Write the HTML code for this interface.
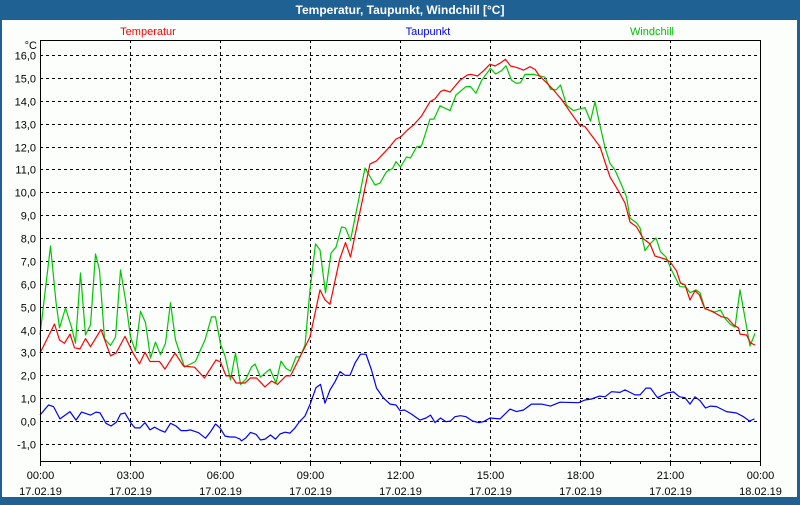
<!DOCTYPE html>
<html><head><meta charset="utf-8">
<style>
html,body{margin:0;padding:0;}
body{width:800px;height:500px;overflow:hidden;background:#1f6193;font-family:"Liberation Sans",sans-serif;}
#win{position:absolute;left:0;top:0;width:800px;height:500px;}
</style></head>
<body>
<div id="win">
<svg id="chart" width="800" height="500" xmlns="http://www.w3.org/2000/svg">
<rect x="0" y="0" width="800" height="500" fill="#1f6193"/>
<rect x="2" y="20" width="795" height="477" fill="#fbfefb"/>
<text x="400" y="14" text-anchor="middle" font-size="12" font-weight="bold" fill="#ffffff">Temperatur, Taupunkt, Windchill [°C]</text>
<text x="148" y="35" text-anchor="middle" font-size="11" fill="#ff0000">Temperatur</text>
<text x="428" y="35" text-anchor="middle" font-size="11" fill="#0000ff">Taupunkt</text>
<text x="652" y="35" text-anchor="middle" font-size="11" fill="#00c000">Windchill</text>
<text x="37" y="49" text-anchor="end" font-size="11" fill="#000">°C</text>
<g id="grid"></g>
<g id="series"></g>
<g id="axes"></g>
</svg>
</div>
<script>
const yTicks=[16,15,14,13,12,11,10,9,8,7,6,5,4,3,2,1,0,-1];
const xTickHours=[0,3,6,9,12,15,18,21,24];
const xTickTimes=["00:00","03:00","06:00","09:00","12:00","15:00","18:00","21:00","00:00"];
const xTickDates=["17.02.19","17.02.19","17.02.19","17.02.19","17.02.19","17.02.19","17.02.19","17.02.19","18.02.19"];

const tempMinutes=[0,29,39,49,60,69,80,91,101,122,141,152,170,186,199,210,220,239,250,270,287,309,329,352,361,372,383,392,410,421,433,450,463,475,492,501,520,540,560,570,580,599,611,621,647,660,673,699,712,721,735,747,763,780,790,801,808,820,830,840,855,863,875,887,900,910,920,931,941,953,967,980,990,999,1013,1027,1043,1060,1079,1090,1107,1120,1133,1140,1157,1170,1180,1193,1207,1220,1230,1250,1260,1273,1281,1290,1300,1310,1319,1329,1350,1363,1375,1387,1397,1400,1413,1421,1430];
const tempValues=[2.97,4.24,3.54,3.4,3.8,3.2,3.15,3.6,3.25,4.0,2.85,2.97,3.7,2.97,2.5,3.0,2.6,2.6,2.27,2.97,2.4,2.35,1.88,2.67,2.58,1.97,1.97,1.66,1.66,1.88,1.88,1.49,1.75,1.6,1.97,1.97,2.8,3.67,5.73,5.3,5.1,7.04,7.8,7.17,9.88,11.24,11.37,11.98,12.33,12.41,12.72,12.94,13.33,13.96,14.08,14.4,14.47,14.38,14.64,14.9,15.13,15.15,15.08,15.31,15.6,15.52,15.64,15.81,15.52,15.46,15.34,15.49,15.37,15.08,14.79,14.47,14.06,13.52,12.94,12.87,12.37,11.99,11.12,10.67,10.05,9.53,8.7,8.49,7.96,7.74,7.21,7.08,6.96,6.57,6.03,5.95,5.29,5.7,5.51,4.94,4.72,4.56,4.5,4.2,4.07,3.8,3.76,3.42,3.32];

const dewMinutes=[0,17,27,40,60,72,83,101,112,120,132,142,153,161,170,182,190,200,210,220,229,239,250,261,272,282,293,301,317,331,341,351,360,370,380,390,400,403,412,421,432,441,450,461,471,480,490,500,510,519,530,541,552,561,570,580,590,600,610,620,630,641,652,663,673,687,700,712,720,729,743,760,772,781,790,801,812,821,830,841,852,865,877,887,900,920,940,953,967,983,1003,1021,1040,1077,1090,1103,1119,1130,1143,1160,1170,1190,1200,1212,1221,1235,1253,1267,1279,1290,1300,1310,1320,1331,1341,1353,1373,1393,1407,1419,1429];
const dewValues=[0.26,0.7,0.63,0.09,0.41,0.04,0.39,0.26,0.39,0.36,-0.1,-0.22,-0.05,0.3,0.35,-0.1,-0.3,-0.3,-0.07,-0.39,-0.27,-0.39,-0.49,-0.1,-0.22,-0.42,-0.42,-0.39,-0.51,-0.75,-0.47,-0.13,-0.3,-0.66,-0.7,-0.7,-0.79,-0.87,-0.73,-0.5,-0.58,-0.83,-0.79,-0.61,-0.79,-0.57,-0.49,-0.53,-0.3,-0.03,0.22,0.78,1.46,1.6,0.78,1.36,1.72,2.16,2.0,2.0,2.53,2.92,2.92,2.23,1.44,1.0,0.74,0.7,0.45,0.48,0.3,0.04,0.13,0.26,-0.07,0.13,-0.03,0,0.19,0.23,0.19,0,-0.07,-0.03,0.13,0.09,0.52,0.41,0.48,0.74,0.74,0.65,0.82,0.8,0.92,0.96,1.09,1.06,1.28,1.25,1.36,1.14,1.14,1.44,1.44,1.02,1.22,1.27,1.06,1.02,0.74,1.06,0.89,0.57,0.65,0.63,0.41,0.35,0.19,0,0.09];

const chillMinutes=[0,21,32,39,51,63,71,81,91,101,111,119,129,141,151,161,171,181,191,201,211,221,231,241,251,261,271,289,311,320,330,343,351,361,370,381,391,401,412,423,430,441,460,472,482,492,501,512,520,530,540,551,560,571,582,592,603,611,621,650,670,680,693,705,712,721,733,741,753,763,780,788,800,820,832,852,861,872,883,901,911,923,932,943,953,961,970,988,999,1010,1021,1032,1041,1053,1067,1090,1101,1110,1119,1130,1140,1150,1163,1173,1180,1193,1200,1210,1220,1232,1241,1252,1263,1280,1292,1300,1312,1320,1330,1350,1361,1370,1380,1390,1400,1420,1430];
const chillValues=[3.76,7.65,5.2,4.07,4.94,4.1,3.4,6.47,3.76,4.2,7.3,6.6,3.6,3.3,3.67,6.6,5.3,3.67,3.06,4.8,4.3,2.75,3.45,2.9,3.4,5.17,3.54,2.36,2.6,3.06,3.54,4.55,4.55,3.37,2.84,1.8,2.97,1.6,1.84,2.36,2.49,1.92,2.27,1.66,2.62,2.3,2.18,2.8,2.8,3.32,5.73,7.74,7.48,5.6,7.34,7.6,8.48,8.44,7.9,11.06,10.32,10.4,10.9,11.04,11.34,11.1,11.54,11.5,11.98,12.02,13.2,13.2,13.78,13.57,14.25,14.62,14.62,14.33,14.88,15.42,15.17,15.31,15.53,14.9,14.76,14.79,15.15,15.15,15.08,15.03,14.51,14.47,14.69,13.81,13.57,13.7,13.11,13.96,13.01,11.96,11.26,10.97,10.32,9.8,8.87,8.66,8.44,7.45,7.74,8.0,7.4,7.17,6.6,5.87,5.86,5.61,5.73,5.61,4.9,4.77,4.85,4.49,4.24,4.1,5.73,3.28,3.83];

const PL=40,PR=760,PT=40,PB=461;
function xScale(min){return PL+(PR-PL)*min/1440;}
function yScale(v){return 421-(421-55)*v/16;}
const NS="http://www.w3.org/2000/svg";
function mk(tag,attrs,parent){const e=document.createElementNS(NS,tag);for(const k in attrs)e.setAttribute(k,attrs[k]);parent.appendChild(e);return e;}
const grid=document.getElementById('grid'),axes=document.getElementById('axes'),series=document.getElementById('series');

yTicks.forEach(v=>{
  const y=Math.round(yScale(v))+0.5;
  const l=mk('line',{x1:PL,x2:PR,y1:y,y2:y,stroke:'#000','stroke-width':1,'stroke-dasharray':'3,3'},grid);
  
  
  const t=mk('text',{x:36,y:y+4,'text-anchor':'end','font-size':11,fill:'#000'},axes);
  t.textContent=v.toFixed(1).replace('.',',');
  
  
});
xTickHours.forEach((h,i)=>{
  const x=Math.round(xScale(h*60))+0.5;
  if(i>0&&i<xTickHours.length-1){
    const l=mk('line',{x1:x,x2:x,y1:PT,y2:PB,stroke:'#000','stroke-width':1,'stroke-dasharray':'3,3'},grid);
    
    
  }
  const t1=mk('text',{x:x,y:479,'text-anchor':'middle','font-size':11,fill:'#000'},axes);
  t1.textContent=xTickTimes[i];
  
  
  const t2=mk('text',{x:x,y:495,'text-anchor':'middle','font-size':11,fill:'#000'},axes);
  t2.textContent=xTickDates[i];
  
  
});
for(let h=0;h<=24;h++){
  const x=Math.round(xScale(h*60))+0.5;
  const l=mk('line',{x1:x,x2:x,y1:PB,y2:PB+(h%3==0?5:3),stroke:'#000'},axes);
  
  
}
const frame=mk('path',{d:`M${PL+0.5},${PB+0.5}V${PT+0.5}H${PR+0.5}V${PB+0.5}H${PL+0.5}`,fill:'none',stroke:'#000','stroke-width':1},axes);



function drawLine(mins,vals,color,name){
  const pts=mins.map((m,i)=>xScale(m).toFixed(1)+','+yScale(vals[i]).toFixed(1)).join(' ');
  const p=mk('polyline',{points:pts,fill:'none',stroke:color,'stroke-width':1.2,'stroke-linejoin':'round'},series);
  
  
}
drawLine(dewMinutes,dewValues,'#0000ff','taupunkt-line');
drawLine(chillMinutes,chillValues,'#00c800','windchill-line');
drawLine(tempMinutes,tempValues,'#ff0000','temperatur-line');
</script>
</body></html>
